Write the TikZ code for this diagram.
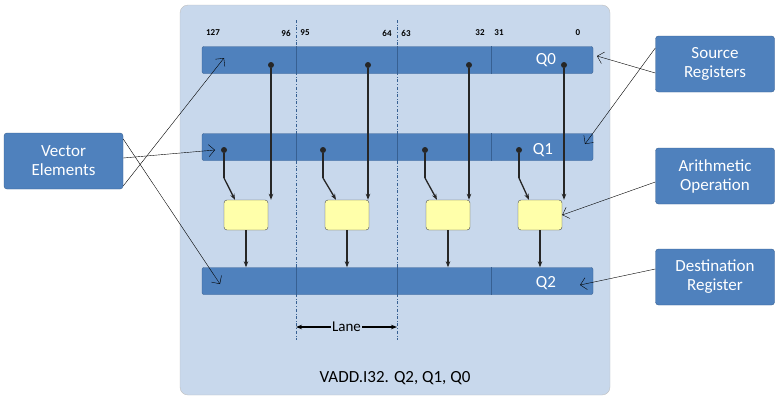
\documentclass[tikz,border=0pt]{standalone}
\usepackage{fontspec}
\setmainfont{Carlito}
\usetikzlibrary{arrows.meta,positioning}
\definecolor{regblue}{RGB}{79,129,189}
\definecolor{regedge}{RGB}{55,96,146}
\definecolor{panelbg}{RGB}{200,216,236}
\definecolor{opyellow}{RGB}{255,255,170}
\tikzset{
  reg/.style={draw=regedge,fill=regblue,rounded corners=2pt,minimum width=391pt,minimum height=27pt,inner sep=0pt},
  callout/.style={draw=regedge,fill=regblue,rounded corners=3pt,text=white,font=\fontsize{17}{19}\selectfont,align=center,minimum width=119pt,minimum height=56pt},
  opbox/.style={draw=black!70,fill=opyellow,rounded corners=3pt,minimum width=44pt,minimum height=30pt},
  dot/.style={circle,fill=black!85,inner sep=0pt,minimum size=6pt},
  wire/.style={line width=1.3pt,draw=black!85,-{Stealth[length=6pt]}},
  pointer/.style={thin,-{Straight Barb[length=6pt]}},
  bits/.style={font=\bfseries\fontsize{9}{10}\selectfont}
}
\begin{document}
\begin{tikzpicture}[x=1pt,y=-1pt]
\useasboundingbox (0,0) rectangle (781,402);

% Panel
\draw[draw=black!25,fill=panelbg,rounded corners=8pt] (180,5) rectangle (610,395);

% Registers
\node[reg] (q0) at (397.5,60) {};
\node[reg] (q1) at (397.5,147) {};
\node[reg] (q2) at (397.5,281) {};
\foreach \r in {q0,q1,q2}
  \foreach \x in {296,397,491}
    \draw[regedge,thick] (\x,0 |- \r.north) -- (\x,0 |- \r.south);
\node[text=white,font=\fontsize{17}{19}\selectfont] (q0l) at (546,60) {Q0};
\node[text=white,font=\fontsize{17}{19}\selectfont] (q1l) at (543,150) {Q1};
\node[text=white,font=\fontsize{17}{19}\selectfont] (q2l) at (546,283) {Q2};

% Bit numbers
\node[bits] (b127) at (213,33) {127};
\node[bits] (b96) at (286,33) {96};
\node[bits] (b95) at (305,33) {95};
\node[bits] (b64) at (387,33) {64};
\node[bits] (b63) at (406,33) {63};
\node[bits] (b32) at (480,33) {32};
\node[bits] (b31) at (499,33) {31};
\node[bits] (b0) at (578,33) {0};

% Lane boundaries
\draw[regedge,dash dot] (296,20) -- (296,340);
\draw[regedge,dash dot] (397,20) -- (397,340);

% Lanes
\foreach \i/\a/\b/\c in {1/271/224/246,2/368/323/347,3/469/425/448,4/564/519/540} {
  \node[dot] (s\i) at (\a,65) {};
  \node[dot] (t\i) at (\b,150) {};
  \node[opbox] (op\i) at (\c,215) {};
  \coordinate (k\i) at (\b,178);
  \draw[wire] (s\i) -- (s\i |- op\i.north);
  \draw[wire,-] (t\i) -- (k\i);
  \draw[wire] (k\i) -- ([xshift=-11pt]op\i.north);
  \draw[wire] (op\i) -- (op\i |- q2.north);
}

% Lane marker
\node[font=\fontsize{15}{17}\selectfont,fill=panelbg,inner sep=1pt] (lane) at (346.5,327) {Lane};
\coordinate (la) at (296,327);
\coordinate (lb) at (397,327);
\draw[line width=1.3pt,-{Stealth[length=6pt]}] (lane) -- (la);
\draw[line width=1.3pt,-{Stealth[length=6pt]}] (lane) -- (lb);

\node[font=\fontsize{17}{19}\selectfont] (instr) at (395,378) {VADD.I32. Q2, Q1, Q0};

% Callouts
\node[callout] (vec) at (63.5,161) {Vector\\Elements};
\node[callout] (src) at (715,64) {Source\\Registers};
\node[callout] (ari) at (715,176) {Arithmetic\\Operation};
\node[callout] (dst) at (715,277) {Destination\\Register};

\coordinate (v1) at (224,58);
\coordinate (v2) at (215,150);
\coordinate (v3) at (220,284);
\draw[pointer] ([yshift=-25pt]vec.east) -- (v1);
\draw[pointer] ([yshift=3pt]vec.east) -- (v2);
\draw[pointer] ([yshift=22pt]vec.east) -- (v3);
\coordinate (r1) at (597,56);
\coordinate (r2) at (585,144);
\draw[pointer] ([yshift=-9pt]src.west) -- (r1);
\draw[pointer] ([yshift=16pt]src.west) -- (r2);
\draw[pointer] ([yshift=-6pt]ari.west) -- (op4.east);
\coordinate (d1) at (580,285);
\draw[pointer] ([yshift=8pt]dst.west) -- (d1);
\end{tikzpicture}
\end{document}
